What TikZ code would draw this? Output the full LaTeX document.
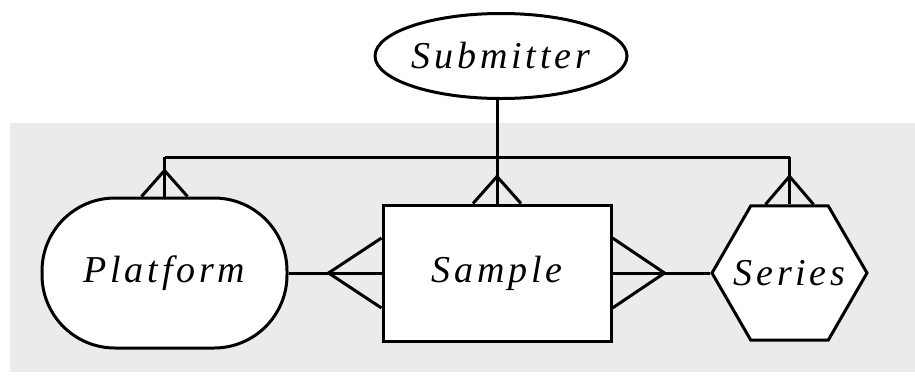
\documentclass[tikz,border=0pt]{standalone}
\usepackage{fontspec}
\setmainfont{Liberation Serif}
\newfontfamily\entityfamily[LetterSpace=10]{Liberation Serif}
\usepackage{tikz}
\usetikzlibrary{shapes.geometric,calc}

\tikzset{
  entitytext/.style={font=\entityfamily\itshape\fontsize{38}{40}\selectfont},
  entity/.style={draw=black,fill=white,line width=3pt,inner sep=0pt,entitytext},
  link/.style={line width=3pt},
}

\begin{document}
\begin{tikzpicture}[x=1pt,y=-1pt]
   \useasboundingbox (0,0) rectangle (915,376);
   \fill[black!8] (10,123) rectangle (915,372);

   \draw (501,56) node[entity,ellipse,minimum width=203pt,minimum height=85pt] (submitter) {Submitter};
     \draw (164.5,273) node[entity,rounded corners=73pt,minimum width=245pt,minimum height=150pt] (platform) {Platform};
     \draw (497,273) node[entity,minimum width=228pt,minimum height=136pt] (sample) {Sample};
     \draw (789.5,273) node[entity,regular polygon,regular polygon sides=6,minimum size=155pt,
        label={[entitytext]center:Series}] (series) {};
   \coordinate (bus) at (497,157);

       \path[link] (sample.north) edge (sample.north |- submitter.south);
       \path[link] (platform.north) edge (platform.north |- bus);
       \path[link] (series.north) edge (series.north |- bus);
       \path[link] (platform.north |- bus) edge (series.north |- bus);
       \path[link] (platform.east) edge (sample.west);
       \path[link] (sample.east) edge (series.west);

       \draw[link] ($(platform.north)+(-23,0)$) -- ($(platform.north)+(0,-26)$) -- ($(platform.north)+(23,0)$);
       \draw[link] ($(sample.north)+(-24,0)$) -- ($(sample.north)+(0,-27)$) -- ($(sample.north)+(24,0)$);
       \draw[link] ($(series.north)+(-24,0)$) -- ($(series.north)+(0,-28)$) -- ($(series.north)+(24,0)$);
       \draw[link] ($(sample.west)+(0,-35)$) -- ($(sample.west)+(-53,0)$) -- ($(sample.west)+(0,35)$);
       \draw[link] ($(sample.east)+(0,-35)$) -- ($(sample.east)+(52,0)$) -- ($(sample.east)+(0,35)$);
\end{tikzpicture}
\end{document}
